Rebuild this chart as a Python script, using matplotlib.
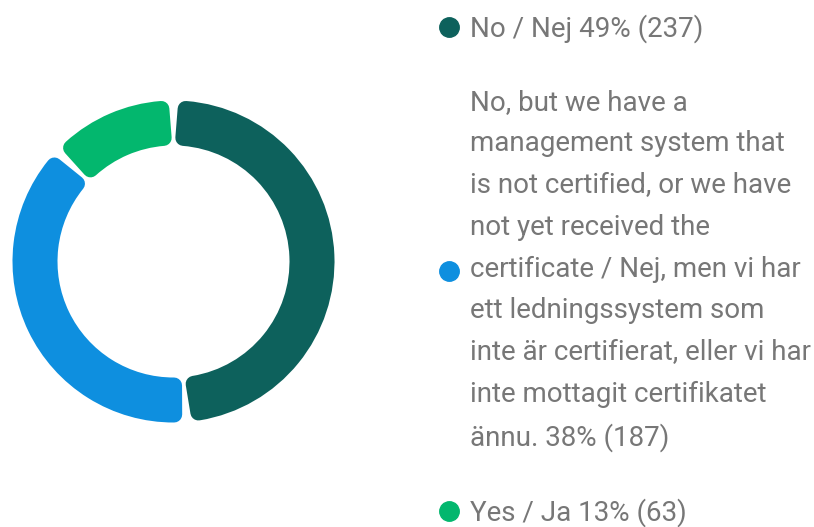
import matplotlib.pyplot as plt
from matplotlib.lines import Line2D
import numpy as np

# data
names = ["No / Nej",
         "No, but we have a\nmanagement system that\nis not certified, or we have\nnot yet received the\n"
         "certificate / Nej, men vi har\nett ledningssystem som\ninte är certifierat, eller vi har\n"
         "inte mottagit certifikatet\nännu.",
         "Yes / Ja"]
counts = [237, 187, 63]
colors = ["#0d615c", "#0e8fdf", "#03b76e"]

plt.rcParams['font.family'] = ['Roboto', 'DejaVu Sans']

W, H = 814, 527
fig = plt.figure(figsize=(W / 100, H / 100), dpi=100)
ax = fig.add_axes([0, 0, 1, 1])

# donut in pixel units
cx, cy = 173.5, H - 261.5
r_out, thick = 161, 45
corner = 8   # rounded corner radius (px)
gap = 6
r_mid = r_out - thick / 2

wedges, _ = ax.pie(counts, colors=colors, startangle=90, counterclock=False,
                   radius=r_out - corner, center=(cx, cy),
                   wedgeprops=dict(width=thick - 2 * corner))
shrink = np.degrees((gap / 2 + corner) / r_mid)
for w in wedges:
    w.set_theta1(w.theta1 + shrink)
    w.set_theta2(w.theta2 - shrink)
    w.set_edgecolor(w.get_facecolor())
    w.set_linewidth(2 * corner * 0.72)
    w.set_joinstyle('round')

ax.set_xlim(0, W)
ax.set_ylim(0, H)
ax.set_aspect('equal')
ax.axis('off')

total = sum(counts)
labels = [f"{n} {round(c / total * 100)}% ({c})" for n, c in zip(names, counts)]
handles = [Line2D([], [], ls='', marker='o', ms=14, color=c) for c in colors]
leg = ax.legend(handles, labels, loc='upper left', bbox_to_anchor=(441 / W, 1 - 14 / H),
                frameon=False, fontsize=20, labelcolor='#777777',
                handlelength=0.6, handletextpad=0.46, labelspacing=1.65,
                borderpad=0, borderaxespad=0)
for t in leg.get_texts():
    t.set_linespacing(1.70)

fig.savefig("out.png", dpi=100)
